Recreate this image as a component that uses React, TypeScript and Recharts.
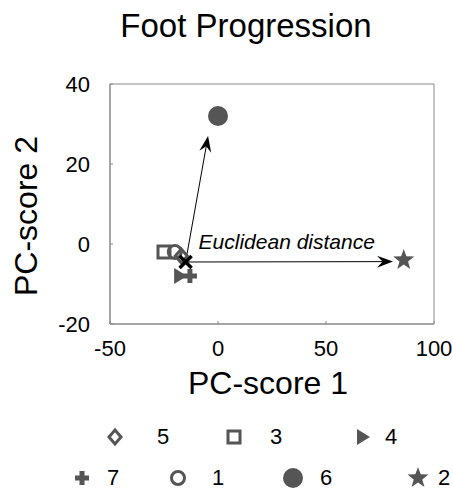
import { ScatterChart, Scatter, XAxis, YAxis, ReferenceLine, ReferenceArea } from 'recharts';

// subject groups, in the order they are drawn (later ones on top)
const groupNames = ['5', '3', '4', '7', '1', '6', '2'];
const groupShapes = ['diamond', 'square', 'triangle', 'plus', 'circle', 'dot', 'star'];
const pcScore1 = [-17, -25, -18, -13, -20, 0, 86];
const pcScore2 = [-3, -2, -8, -8, -2, 32, -4];

// group mean (black cross) and where the arrows end
const meanPoint = { x: -15, y: -4.5 };
const arrowEnds = [
  { x: -4.6, y: 27 },
  { x: 81, y: -4.4 },
];

const xTicks = [-50, 0, 50, 100];
const yTicks = [-20, 0, 20, 40];

// legend rows, as shown under the chart
const legendRow1 = ['5', '3', '4'];
const legendRow2 = ['7', '1', '6', '2'];

const GRAY = '#555555';
const FONT = '"Liberation Sans", Arial, sans-serif';

function Marker({ type, cx, cy }: { type: string; cx: number; cy: number }) {
  switch (type) {
    case 'diamond':
      return <path d={`M${cx},${cy - 7} L${cx + 6},${cy} L${cx},${cy + 7} L${cx - 6},${cy} Z`} fill="none" stroke={GRAY} strokeWidth={3} />;
    case 'square':
      return <rect x={cx - 6} y={cy - 6} width={12} height={12} fill="none" stroke={GRAY} strokeWidth={3} />;
    case 'triangle':
      return <path d={`M${cx - 5},${cy - 8} L${cx + 8},${cy} L${cx - 5},${cy + 8} Z`} fill={GRAY} />;
    case 'plus':
      return <path d={`M${cx - 2.5},${cy - 7} h5 v4.5 h4.5 v5 h-4.5 v4.5 h-5 v-4.5 h-4.5 v-5 h4.5 Z`} fill={GRAY} />;
    case 'circle':
      return <circle cx={cx} cy={cy} r={6.5} fill="none" stroke={GRAY} strokeWidth={3} />;
    case 'dot':
      return <circle cx={cx} cy={cy} r={10} fill={GRAY} />;
    case 'star': {
      const pts: string[] = [];
      for (let i = 0; i < 10; i++) {
        const r = i % 2 === 0 ? 11 : 4.5;
        const a = -Math.PI / 2 + (i * Math.PI) / 5;
        pts.push(`${cx + r * Math.cos(a)},${cy + r * Math.sin(a)}`);
      }
      return <polygon points={pts.join(' ')} fill={GRAY} />;
    }
    case 'x':
      return (
        <g stroke="#000" strokeWidth={3.5}>
          <line x1={cx - 6} y1={cy - 6} x2={cx + 6} y2={cy + 6} />
          <line x1={cx - 6} y1={cy + 6} x2={cx + 6} y2={cy - 6} />
        </g>
      );
    default:
      return null;
  }
}

const Arrow = (withText: boolean) => (props: any) => {
  const { x1, y1, x2, y2 } = props;
  const ang = Math.atan2(y2 - y1, x2 - x1);
  const len = 16;
  const half = 6;
  const bx = x2 - len * Math.cos(ang);
  const by = y2 - len * Math.sin(ang);
  const nx = x2 - len * 0.65 * Math.cos(ang);
  const ny = y2 - len * 0.65 * Math.sin(ang);
  const px = -Math.sin(ang) * half;
  const py = Math.cos(ang) * half;
  return (
    <g>
      <line x1={x1} y1={y1} x2={nx} y2={ny} stroke="#000" strokeWidth={1} />
      <polygon points={`${x2},${y2} ${bx + px},${by + py} ${nx},${ny} ${bx - px},${by - py}`} fill="#000" />
      {withText && (
        <text x={x1 + 13} y={y1 - 13} fontFamily={FONT} fontSize={21} fontStyle="italic" fill="#000">
          Euclidean distance
        </text>
      )}
    </g>
  );
};

export default function App() {
  const series = groupNames.map((name, i) => ({
    name,
    shape: groupShapes[i],
    data: [{ x: pcScore1[i], y: pcScore2[i] }],
  }));
  const shapeOf = (name: string) => groupShapes[groupNames.indexOf(name)];

  return (
    <div style={{ position: 'absolute', left: 0, top: 0, width: 453, height: 493, fontFamily: FONT, background: '#fff' }}>
      <div style={{ position: 'absolute', left: 0, width: 492, top: 7, textAlign: 'center', fontSize: 33, lineHeight: '38px', color: '#000' }}>
        Foot Progression
      </div>

      <ScatterChart width={453} height={493} margin={{ top: 84, right: 19, bottom: 129, left: 0 }}>
        <XAxis
          type="number"
          dataKey="x"
          domain={[-50, 100]}
          ticks={xTicks}
          height={40}
          stroke="#888"
          tickSize={-3}
          tickMargin={19}
          tick={{ fill: '#000', fontSize: 22, fontFamily: FONT }}
          label={{
            content: (p: any) => (
              <text x={p.viewBox.x + p.viewBox.width / 2 - 4} y={394} textAnchor="middle" fontSize={32} fontFamily={FONT} fill="#000">
                PC-score 1
              </text>
            ),
          }}
        />
        <YAxis
          type="number"
          dataKey="y"
          domain={[-20, 40]}
          ticks={yTicks}
          width={110}
          stroke="#888"
          tickSize={-3}
          tickMargin={23}
          tick={{ fill: '#000', fontSize: 22, fontFamily: FONT }}
          label={{
            content: (p: any) => (
              <text transform={`translate(37,${p.viewBox.y + p.viewBox.height / 2 + 12}) rotate(-90)`} textAnchor="middle" fontSize={32} fontFamily={FONT} fill="#000">
                PC-score 2
              </text>
            ),
          }}
        />

        {/* box around the plot, like MATLAB's "box on" */}
        <ReferenceArea x1={-50} x2={100} y1={-20} y2={40} fill="none" stroke="#888" strokeWidth={1} ifOverflow="visible" />

        {series.map((s) => (
          <Scatter
            key={s.name}
            name={s.name}
            data={s.data}
            isAnimationActive={false}
            shape={(p: any) => <Marker type={s.shape} cx={p.cx} cy={p.cy} />}
          />
        ))}

        {arrowEnds.map((end, i) => (
          <ReferenceLine
            key={i}
            segment={[meanPoint, end]}
            shape={Arrow(i === 1)}
            ifOverflow="visible"
          />
        ))}

        <Scatter
          name="mean"
          data={[meanPoint]}
          isAnimationActive={false}
          shape={(p: any) => <Marker type="x" cx={p.cx} cy={p.cy} />}
        />
      </ScatterChart>

      {[legendRow1, legendRow2].map((row, r) => (
        <div key={r}>
          {row.map((name, i) => {
            const cols = r === 0 ? [115, 234, 362] : [82, 178, 293, 418];
            const textLeft = r === 0 ? [157, 270, 385] : [107, 212, 320, 438];
            const cy = r === 0 ? 437 : 478;
            return (
              <div key={name}>
                <svg style={{ position: 'absolute', left: cols[i] - 14, top: cy - 14 }} width={28} height={28}>
                  <Marker type={shapeOf(name)} cx={14} cy={14} />
                </svg>
                <div style={{ position: 'absolute', left: textLeft[i], top: cy - 13, fontSize: 22, lineHeight: '26px', color: '#000' }}>
                  {name}
                </div>
              </div>
            );
          })}
        </div>
      ))}
    </div>
  );
}
